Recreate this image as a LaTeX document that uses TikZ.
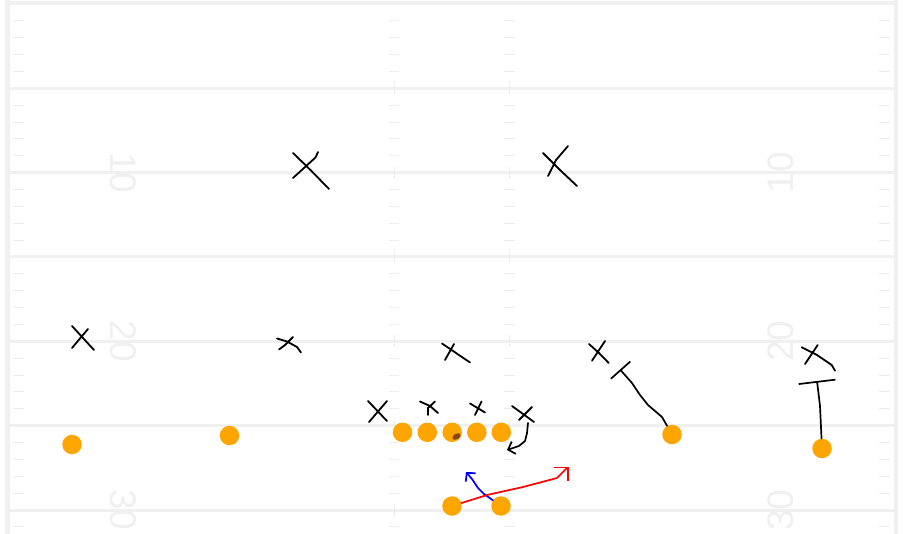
\documentclass[tikz,border=0pt]{standalone}
\usepackage{fontspec}
\newfontfamily\numfont{Liberation Sans}
\usetikzlibrary{arrows.meta,shapes.geometric}
\definecolor{fieldgray}{HTML}{F0F0F0}
\definecolor{hashgray}{HTML}{ECECEC}
\definecolor{numgray}{HTML}{F0F0F0}
\definecolor{dotorange}{HTML}{FFA500}
\definecolor{ballbrown}{HTML}{8B4513}
\begin{document}
\begin{tikzpicture}[x=1pt,y=-1pt,
  yardline/.style={draw=fieldgray,line width=3pt},
  fieldborder/.style={draw=fieldgray,line width=4.5pt},
  hashmark/.style={draw=hashgray,line width=0.9pt},
  yardnum/.style={text=numgray,font=\numfont\fontsize{37}{37}\selectfont,inner sep=0pt},
  player/.style={circle,fill=dotorange,minimum size=19.5pt,inner sep=0pt},
  defender/.style={draw=black,line width=1.8pt,line cap=round,line join=round},
  route/.style={line width=1.7pt,line cap=round,line join=round},
  ball/.style={ellipse,fill=ballbrown,minimum width=9pt,minimum height=5.5pt,inner sep=0pt}
]
\useasboundingbox (0,0) rectangle (917,534);
\fill[white] (0,0) rectangle (917,534);

% field
\foreach \y in {88.3,172.7,257,341.3,425.7,510}{
  \draw[yardline] (8,\y) -- (895,\y);
  \draw[hashmark] (394,{\y-6}) -- (394,{\y+6});
  \draw[hashmark] (509.5,{\y-6}) -- (509.5,{\y+6});
}
\draw[fieldborder] (5,3) -- (898,3);
\draw[fieldborder] (7.5,0) -- (7.5,534);
\draw[fieldborder] (896,0) -- (896,534);
\foreach \k in {0,...,6}{
  \foreach \j in {1,...,4}{
    \pgfmathsetmacro\yy{4+84.33*\k+16.867*\j}
    \ifdim\yy pt<534pt
      \draw[hashmark] (13,\yy) -- (24,\yy) (389,\yy) -- (399,\yy)
        (504,\yy) -- (515,\yy) (879,\yy) -- (890,\yy);
    \fi
  }
}

% yard numbers
\node[yardnum,rotate=-90] (n10l) at (123.5,172.7) {10};
\node[yardnum,rotate=-90] (n20l) at (123.5,341.3) {20};
\node[yardnum,rotate=-90] (n30l) at (123.5,510) {30};
\node[yardnum,rotate=90] (n10r) at (780.5,172.7) {10};
\node[yardnum,rotate=90] (n20r) at (780.5,341.3) {20};
\node[yardnum,rotate=90] (n30r) at (780.5,510) {30};

% defenders
\coordinate (d1) at (311,170);
\draw[defender] (293,153) -- (311,170.5) -- (329,189) (318,152) -- (315.5,157.5) -- (293,178);
\coordinate (d2) at (561,168);
\draw[defender] (543,153) -- (560,170) -- (577,186) (568,146) -- (556,160) -- (548,176);
\coordinate (d3) at (83,338);
\draw[defender] (72,326) -- (83,338) -- (94,350) (88,329) -- (72,348);
\coordinate (d4) at (289,344);
\draw[defender] (277,338.5) -- (287,341.5) -- (297,347) -- (301,352.5) (293,337) -- (285,345) -- (279,349.5);
\coordinate (d5) at (455,352);
\draw[defender] (442,343.5) -- (470,362.5) (454,344) -- (445,360);
\coordinate (d6) at (377,411);
\draw[defender] (368,401) -- (387,421) (387,401) -- (369,422);
\coordinate (d7) at (429,407);
\draw[defender] (420,401.5) -- (430,406) -- (438,413) (435,401.5) -- (428,408) -- (428,415);
\coordinate (d8) at (478,408);
\draw[defender] (470,403.5) -- (485,412.5) (481.5,401.5) -- (475,415);
\coordinate (d9) at (523,414);
\draw[defender] (512,406) -- (523,414) -- (534,422) (532,407) -- (519,420);
\coordinate (d10) at (599,352);
\draw[defender] (589,344) -- (599,353) -- (608.7,363) (605,341) -- (592,360.7);
\coordinate (d11) at (818,356);
\draw[defender] (801.7,347.3) -- (817,355) -- (831.7,365) -- (835,370.7) (817.7,345) -- (805,364);

% offense
\node[player] (lwr)  at (72,444.5) {};
\node[player] (slot) at (229.5,435.5) {};
\node[player] (lt)   at (402.5,432.3) {};
\node[player] (lg)   at (427.3,432.3) {};
\node[player] (cen)  at (452.2,432.3) {};
\node[player] (rg)   at (476.8,432.3) {};
\node[player] (rt)   at (501.3,432.3) {};
\node[player] (qb)   at (452,506) {};
\node[player] (rb)   at (501,506) {};
\node[player] (rwr)  at (672,434.5) {};
\node[player] (te)   at (822,448.5) {};
\node[ball,rotate=30] (fb) at (456.5,436.5) {};

% routes
\coordinate (d9tail) at (528,423);
\draw[route,-{Straight Barb[length=6pt,width=13pt]}] (d9tail) -- (527,433) -- (525,441) -- (519,446) -- (507,450);
\draw[route,blue,-{Straight Barb[length=6pt,width=13pt]}] (rb) -- (484,494) -- (478,488) -- (472,479) -- (466,472);
\draw[route,red,-{Straight Barb[length=10pt,width=20pt]}] (qb) -- (487,495) -- (523,487) -- (557,478) -- (568.5,466.5);
\draw[route,-{Bar[width=26pt]}] (rwr) -- (662,417) -- (648,405) -- (640,395) -- (632,383) -- (620,369.5);
\draw[route,-{Bar[width=37pt]}] (te) -- (820,406) -- (817,381);
\end{tikzpicture}
\end{document}
